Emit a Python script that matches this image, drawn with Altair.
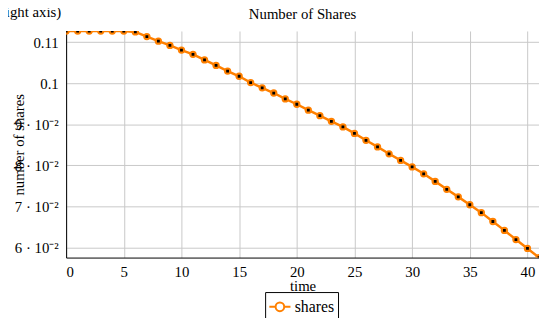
import altair as alt
import pandas as pd

time = list(range(42))
shares = [0.1127, 0.1127, 0.1127, 0.1127, 0.1127, 0.1127, 0.11247, 0.11134, 0.11022, 0.10918,
          0.10806, 0.10703, 0.10566, 0.10432, 0.10295, 0.10168, 0.10014, 0.09887, 0.09760, 0.09616,
          0.09487, 0.09343, 0.09209, 0.09072, 0.08935, 0.08777, 0.08609, 0.08448, 0.08281, 0.08120,
          0.07962, 0.07794, 0.07609, 0.07417, 0.07233, 0.07041, 0.06849, 0.06633, 0.06417, 0.06194,
          0.05978, 0.05755]
series = ["shares"] * len(time)
x_ticks = [0, 5, 10, 15, 20, 25, 30, 35, 40]
y_ticks = [0.06, 0.07, 0.08, 0.09, 0.1, 0.11]
title_text = "Number of Shares"
note_text = "(right axis)"

df = pd.DataFrame({"time": time, "shares": shares, "series": series})

ORANGE = "#ff8000"
FONT = "Liberation Serif"

xenc = alt.X("time:Q", title="time",
             scale=alt.Scale(domain=[0, 41], nice=False, zero=False),
             axis=alt.Axis(values=x_ticks, grid=True, gridColor="#c8c8c8", ticks=False,
                           labelPadding=7, domainColor="black", labelFontSize=15,
                           titleFontSize=15, titleFontWeight="normal",
                           titleX=240, titleY=33, titleBaseline="alphabetic", titleAnchor="middle",
                           labelFont=FONT, titleFont=FONT, labelColor="black", titleColor="black"))
yenc = alt.Y("shares:Q", title="number of shares",
             scale=alt.Scale(domain=[0.05755, 0.1127], nice=False, zero=False),
             axis=alt.Axis(values=y_ticks, grid=True, gridColor="#c8c8c8", ticks=False,
                           labelPadding=8, domainColor="black", labelFontSize=15,
                           labelExpr="datum.value > 0.095 ? toString(round(datum.value*100)/100) : toString(round(datum.value*100)) + ' · 10⁻²'",
                           titleFontSize=15, titleFontWeight="normal", titleX=-40, titleY=115,
                           titleBaseline="bottom", titleAnchor="middle",
                           labelFont=FONT, titleFont=FONT, labelColor="black", titleColor="black"))

base = alt.Chart(df)

line = base.mark_line(strokeWidth=2.5, clip=True).encode(
    x=xenc, y=yenc,
    color=alt.Color("series:N", scale=alt.Scale(range=[ORANGE]), title=None,
                    legend=alt.Legend(orient="none", legendX=202, legendY=265,
                                      symbolType="M-1.1,0H-0.45M0.45,0H1.1M0.45,0A0.45,0.45 0 1,1 -0.45,0A0.45,0.45 0 1,1 0.45,0",
                                      symbolSize=380, symbolStrokeWidth=2,
                                      symbolFillColor="white", symbolStrokeColor=ORANGE,
                                      labelFont=FONT, labelFontSize=16, labelColor="black",
                                      strokeColor="black", padding=4, cornerRadius=0,
                                      fillColor="white")))

pts = base.mark_point(filled=True, size=55, color=ORANGE, opacity=1, clip=True).encode(x="time:Q", y="shares:Q")
dots = base.mark_point(filled=True, size=8, shape="square", color="black", opacity=1, clip=True).encode(x="time:Q", y="shares:Q")

note = alt.Chart(pd.DataFrame({"t": [note_text]})).mark_text(
    align="right", baseline="alphabetic", font=FONT, fontSize=15, color="black"
).encode(text="t:N", x=alt.value(-5), y=alt.value(-14))

title = alt.Chart(pd.DataFrame({"t": [title_text]})).mark_text(
    align="center", baseline="alphabetic", font=FONT, fontSize=15, color="black"
).encode(text="t:N", x=alt.value(240), y=alt.value(-12))

chart = alt.layer(line, pts, dots, note, title).properties(
    width=480, height=230,
    autosize=alt.AutoSizeParams(type="none"),
    padding={"left": 59, "top": 21, "right": 0, "bottom": 59},
).configure_view(stroke=None)

chart.save("out.html", embed_options={"renderer": "svg", "actions": False})
